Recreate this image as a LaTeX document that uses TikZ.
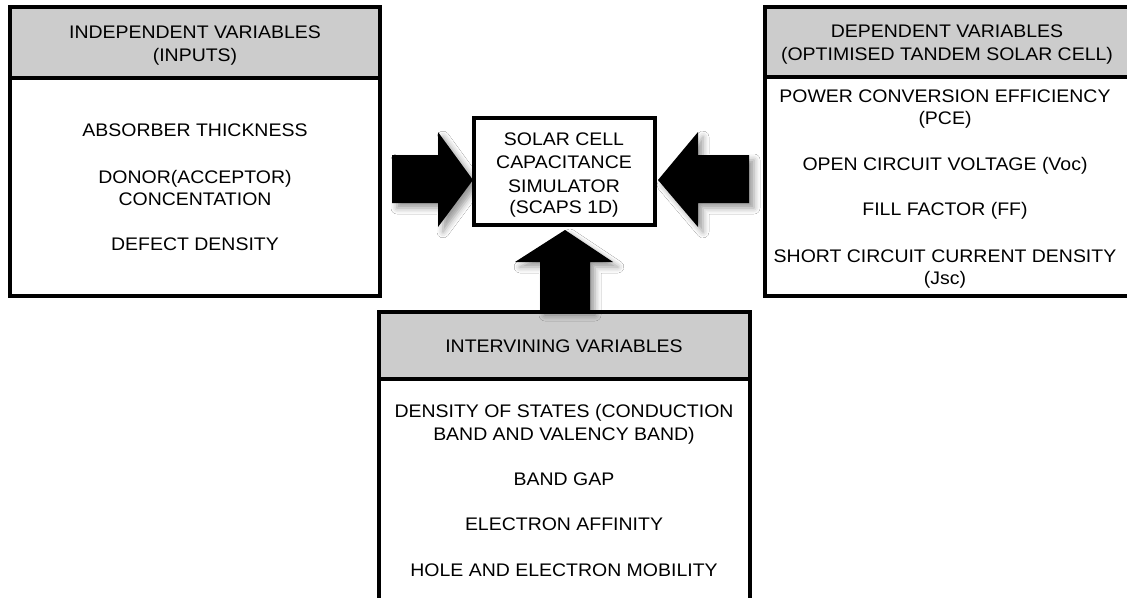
\documentclass[tikz,border=0pt]{standalone}
\usepackage{fontspec}
\setmainfont{Liberation Sans}[FakeStretch=1.07]
\usetikzlibrary{shadows.blur}
\begin{document}
\begin{tikzpicture}[x=1pt,y=-1pt,
  box/.style={line width=3.4pt, line join=miter},
  hdr/.style={fill=black!20},
  txt/.style={anchor=base, inner sep=0pt, font=\fontsize{18.2}{22}\selectfont},
  blockarrow/.style={fill=black, blur shadow={shadow xshift=5pt, shadow yshift=-5pt, shadow blur radius=6pt, shadow opacity=40}}]
\clip (0,0) rectangle (1127,597);
\fill[white] (0,0) rectangle (1127,597);

% ---------- left box ----------
\coordinate (Lnw) at (10,7);
\coordinate (Lse) at (380,296);
\fill[hdr] (10,7) rectangle (380,78);
\draw[box] (Lnw) rectangle (Lse);
\draw[box] (10,78) -- (380,78);
\node[txt] (lh1) at (195,38) {INDEPENDENT VARIABLES};
\node[txt] (lh2) at (195,61) {(INPUTS)};
\node[txt] (lb1) at (195,136) {ABSORBER THICKNESS};
\node[txt] (lb2) at (195,183) {DONOR(ACCEPTOR)};
\node[txt] (lb3) at (195,205) {CONCENTATION};
\node[txt] (lb4) at (195,250) {DEFECT DENSITY};

% ---------- right box ----------
\coordinate (Rnw) at (765,7);
\coordinate (Rse) at (1130,296);
\fill[hdr] (765,7) rectangle (1130,77);
\draw[box] (Rnw) rectangle (Rse);
\draw[box] (765,77) -- (1130,77);
\node[txt] (rh1) at (947,37) {DEPENDENT VARIABLES};
\node[txt] (rh2) at (947,60) {(OPTIMISED TANDEM SOLAR CELL)};
\node[txt] (rb1) at (945,102) {POWER CONVERSION EFFICIENCY};
\node[txt] (rb2) at (945,124) {(PCE)};
\node[txt] (rb3) at (945,170) {OPEN CIRCUIT VOLTAGE (Voc)};
\node[txt] (rb4) at (945,215) {FILL FACTOR (FF)};
\node[txt] (rb5) at (945,262) {SHORT CIRCUIT CURRENT DENSITY};
\node[txt] (rb6) at (945,284) {(Jsc)};

% ---------- bottom box ----------
\coordinate (Bnw) at (379,312);
\coordinate (Bse) at (750,605);
\fill[hdr] (379,312) rectangle (750,379);
\draw[box] (Bnw) rectangle (Bse);
\draw[box] (379,379) -- (750,379);
\node[txt] (bh1) at (564,352) {INTERVINING VARIABLES};
\node[txt] (bb1) at (564,417) {DENSITY OF STATES (CONDUCTION};
\node[txt] (bb2) at (564,440) {BAND AND VALENCY BAND)};
\node[txt] (bb3) at (564,485) {BAND GAP};
\node[txt] (bb4) at (564,530) {ELECTRON AFFINITY};
\node[txt] (bb5) at (564,576) {HOLE AND ELECTRON MOBILITY};

% ---------- block arrows ----------
\path[blockarrow] (392,155) -- (438,155) -- (438,132) -- (473,180) -- (438,227) -- (438,203) -- (392,203) -- cycle;
\path[blockarrow] (749,155) -- (698,155) -- (698,132) -- (658,180) -- (698,227) -- (698,203) -- (749,203) -- cycle;
\path[blockarrow] (540,310) -- (540,262) -- (515,262) -- (565,230) -- (613,262) -- (590,262) -- (590,310) -- cycle;

% ---------- centre box ----------
\node[draw, box, fill=white, minimum width=181pt, minimum height=107pt, inner sep=0pt] (sim) at (564.5,171.5) {};
\node[txt] (c1) at (564,145) {SOLAR CELL};
\node[txt] (c2) at (564,168) {CAPACITANCE};
\node[txt] (c3) at (564,192) {SIMULATOR};
\node[txt] (c4) at (564,213) {(SCAPS 1D)};
\end{tikzpicture}
\end{document}
